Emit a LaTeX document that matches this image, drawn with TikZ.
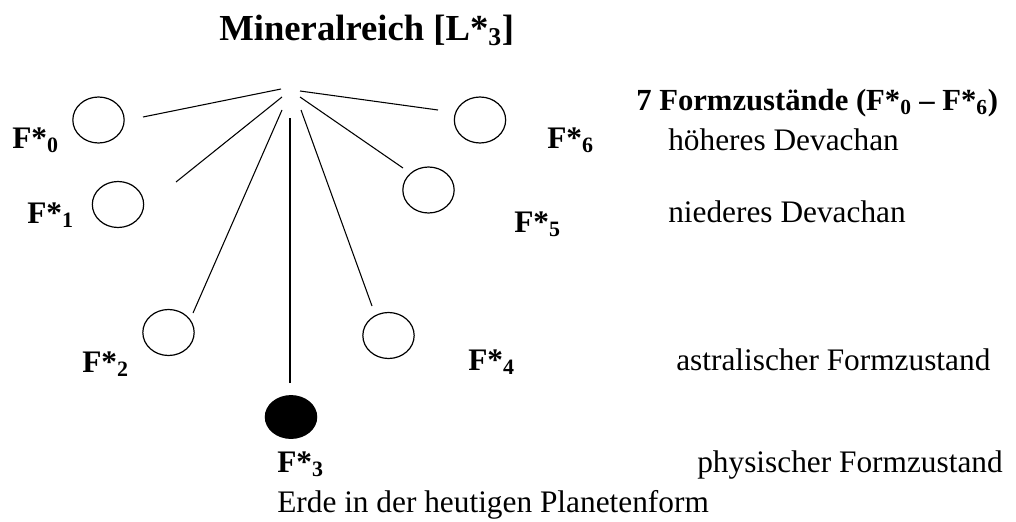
\documentclass[tikz,border=0pt]{standalone}
\usepackage{fontspec}
\setmainfont{Liberation Serif}
\usetikzlibrary{shapes.geometric}
\tikzset{
  ring/.style={ellipse,draw=black,line width=0.9pt,minimum width=38.5pt,minimum height=34.5pt,inner sep=0pt},
  dot/.style={ellipse,fill=black,draw=black,line width=0.9pt,minimum width=38.5pt,minimum height=32pt,inner sep=0pt},
  ray/.style={line width=0.8pt},
  lab/.style={anchor=base west,inner sep=0pt,font=\fontsize{23.5}{27}\selectfont\bfseries},
  hdr/.style={anchor=base west,inner sep=0pt,font=\fontsize{23}{27}\selectfont\bfseries},
  txt/.style={anchor=base west,inner sep=0pt,font=\fontsize{23.5}{28}\selectfont},
  ttl/.style={anchor=base west,inner sep=0pt,font=\fontsize{27.5}{32}\selectfont\bfseries}
}
\begin{document}
\begin{tikzpicture}[x=0.75pt,y=-0.75pt]
\useasboundingbox (0,0) rectangle (1016,521);
\node[ttl] (title) at (219,40) {Mineralreich [L*\textsubscript{3}]};
% ellipses
\node[ring] (e0) at (98.5,120) {};
\node[ring] (e1) at (118,204.5) {};
\node[ring] (e2) at (168.5,332.5) {};
\node[dot]  (e3) at (291,417) {};
\node[ring] (e4) at (388.5,335.5) {};
\node[ring] (e5) at (428.5,190) {};
\node[ring] (e6) at (480,120) {};
% labels
\node[lab] (f0) at (12,148) {F*\textsubscript{0}};
\node[lab] (f1) at (27,223) {F*\textsubscript{1}};
\node[lab] (f2) at (82,372) {F*\textsubscript{2}};
\node[lab] (f3) at (277,472) {F*\textsubscript{3}};
\node[lab] (f4) at (468,370) {F*\textsubscript{4}};
\node[lab] (f5) at (514,232) {F*\textsubscript{5}};
\node[lab] (f6) at (547,148) {F*\textsubscript{6}};
% rays
\coordinate (a0) at (143,117); \coordinate (b0) at (281,89);
\coordinate (a1) at (176,182); \coordinate (b1) at (282,97);
\coordinate (a2) at (193,313); \coordinate (b2) at (282,110);
\coordinate (a3) at (290,383); \coordinate (b3) at (290,118);
\coordinate (a4) at (372,306); \coordinate (b4) at (301,110);
\coordinate (a5) at (403,168); \coordinate (b5) at (300,97);
\coordinate (a6) at (438,110); \coordinate (b6) at (300,91);
\foreach \i in {0,...,6} { \draw[ray] (a\i) -- (b\i); }
% right texts
\node[hdr] (head) at (636,110) {7 Formzustände (F*\textsubscript{0} – F*\textsubscript{6})};
\node[txt] (t1) at (668,150) {höheres Devachan};
\node[txt] (t2) at (668,222) {niederes Devachan};
\node[txt] (t3) at (676,370) {astralischer Formzustand};
\node[txt] (t4) at (697,472) {physischer Formzustand};
\node[txt] (t5) at (277,512) {Erde in der heutigen Planetenform};
\end{tikzpicture}
\end{document}
